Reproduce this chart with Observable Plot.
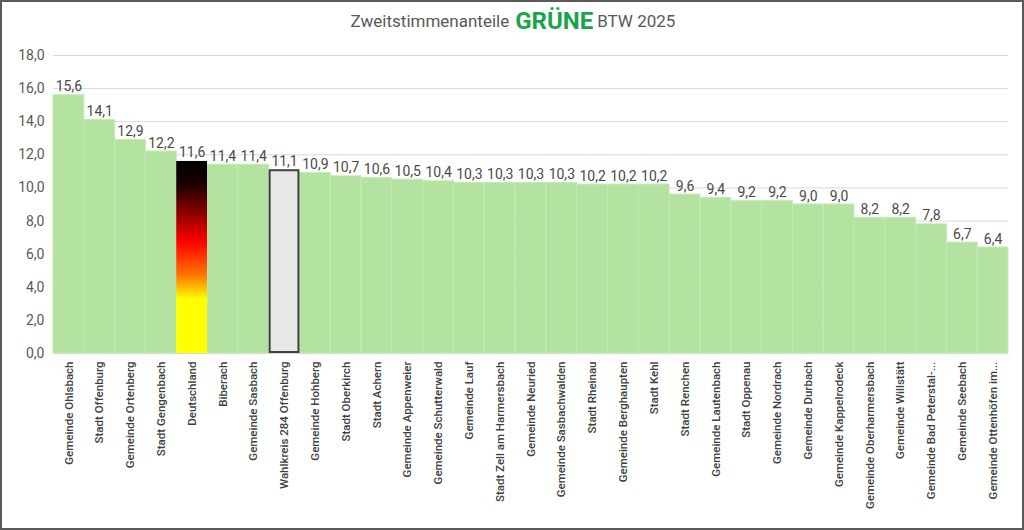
<!DOCTYPE html>
<html>
<head>
<meta charset="utf-8">
<script src="https://cdn.jsdelivr.net/npm/d3@7"></script>
<script src="https://cdn.jsdelivr.net/npm/@observablehq/plot@0.6"></script>
<style>
  html, body { margin: 0; padding: 0; background: #fff; }
  #frame { width: 1024px; height: 530px; box-sizing: border-box; border: 2px solid #5a5a5a; background: #fff; overflow: hidden; font-family: Roboto, "Liberation Sans", sans-serif; }
  #title { height: 38px; display: flex; align-items: center; justify-content: center; color: #595959; font-size: 17px; padding-left: 2px; }
  #title .g { color: #17a54c; font-weight: bold; font-size: 24px; margin: 0 4px 0 6px; }
  svg { display: block; }
</style>
</head>
<body>
<div id="frame">
  <div id="title"><span>Zweitstimmenanteile</span><span class="g">GRÜNE</span><span>BTW 2025</span></div>
  <div id="chart"></div>
</div>
<script>
const names = [
  "Gemeinde Ohlsbach", "Stadt Offenburg", "Gemeinde Ortenberg", "Stadt Gengenbach", "Deutschland",
  "Biberach", "Gemeinde Sasbach", "Wahlkreis 284 Offenburg", "Gemeinde Hohberg", "Stadt Oberkirch",
  "Stadt Achern", "Gemeinde Appenweier", "Gemeinde Schutterwald", "Gemeinde Lauf", "Stadt Zell am Harmersbach",
  "Gemeinde Neuried", "Gemeinde Sasbachwalden", "Stadt Rheinau", "Gemeinde Berghaupten", "Stadt Kehl",
  "Stadt Renchen", "Gemeinde Lautenbach", "Stadt Oppenau", "Gemeinde Nordrach", "Gemeinde Durbach",
  "Gemeinde Kappelrodeck", "Gemeinde Oberharmersbach", "Gemeinde Willstätt", "Gemeinde Bad Peterstal-...", "Gemeinde Seebach",
  "Gemeinde Ottenhöfen im..."
];
const values = [
  15.6, 14.1, 12.9, 12.2, 11.6,
  11.4, 11.4, 11.1, 10.9, 10.7,
  10.6, 10.5, 10.4, 10.3, 10.3,
  10.3, 10.3, 10.2, 10.2, 10.2,
  9.6, 9.4, 9.2, 9.2, 9.0,
  9.0, 8.2, 8.2, 7.8, 6.7,
  6.4
];
const nationalName = "Deutschland";
const districtName = "Wahlkreis 284 Offenburg";
const yTicks = [0, 2, 4, 6, 8, 10, 12, 14, 16, 18];

const data = names.map((n, i) => ({name: n, value: values[i]}));
const fmt = v => v.toFixed(1).replace(".", ",");

const W = 1020, ML = 51, MR = 14;

const chart = Plot.plot({
  width: W,
  height: 486,
  marginTop: 15,
  marginBottom: 173,
  marginLeft: ML,
  marginRight: MR,
  style: {fontFamily: "Roboto, 'Liberation Sans', sans-serif", background: "white"},
  x: {domain: names, padding: 0, round: false, label: null},
  y: {domain: [0, 18], label: null},
  marks: [
    Plot.gridY(yTicks, {stroke: "#d9d9d9", strokeOpacity: 1, strokeWidth: 1}),
    Plot.barY(data.filter(d => d.name !== nationalName && d.name !== districtName), {
      x: "name", y: "value", fill: "#b3e2a1", stroke: "#c4eab5", strokeWidth: 1, inset: 0
    }),
    Plot.barY(data.filter(d => d.name === nationalName), {
      x: "name", y: "value", fill: "url(#deGrad)", inset: 0
    }),
    Plot.barY(data.filter(d => d.name === districtName), {
      x: "name", y: "value", fill: "#e7e7e7", stroke: "#404040", strokeWidth: 2, inset: 1
    }),
    Plot.text(data, {
      x: "name", y: "value", text: d => fmt(d.value), lineAnchor: "bottom", dy: -4,
      fill: "#4a4a4a", fontSize: 14
    }),
    Plot.axisY(yTicks, {
      tickSize: 0, tickPadding: 9, tickFormat: fmt, fontSize: 14, fill: "#595959", label: null
    }),
    Plot.axisX({
      tickSize: 0, tickPadding: 8, tickRotate: -90, fontSize: 11.5, fontWeight: 500, fill: "#404040", label: null
    })
  ]
});

chart.insertAdjacentHTML("afterbegin",
  '<defs><linearGradient id="deGrad" x1="0" y1="0" x2="0" y2="1">' +
  '<stop offset="0" stop-color="#000000"/>' +
  '<stop offset="0.12" stop-color="#1a0000"/>' +
  '<stop offset="0.42" stop-color="#ff0000"/>' +
  '<stop offset="0.6" stop-color="#ff7a00"/>' +
  '<stop offset="0.72" stop-color="#ffff00"/>' +
  '<stop offset="1" stop-color="#ffff00"/>' +
  '</linearGradient></defs>');

document.getElementById("chart").appendChild(chart);
</script>
</body>
</html>
